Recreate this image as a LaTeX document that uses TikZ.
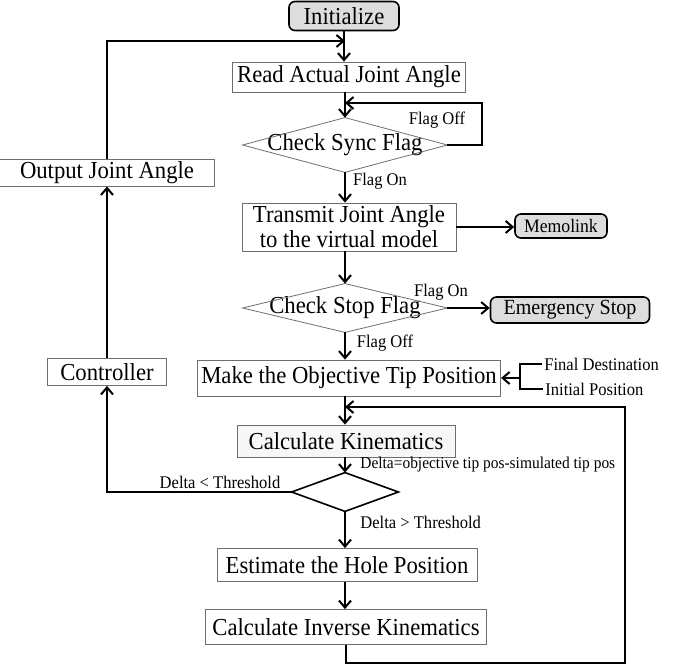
\documentclass[tikz,border=0pt]{standalone}
\usepackage{fontspec}
\setmainfont{Liberation Serif}[FakeStretch=0.93]
\usetikzlibrary{arrows.meta, positioning, calc}
\definecolor{flowGray}{RGB}{221,221,221}
\definecolor{flowEdge}{RGB}{110,110,110}

\begin{document}
\begin{tikzpicture}[x=0.5pt, y=-0.5pt,
    stepbox/.style={draw=flowEdge, line width=0.4pt, inner xsep=2pt, inner ysep=1pt, align=center, font=\fontsize{12.2}{12.6}\selectfont},
    terminal/.style={draw=black, line width=0.8pt, rounded corners=3pt, fill=flowGray, inner sep=1pt},
    decision/.style={inner sep=0pt, font=\fontsize{12.2}{13}\selectfont},
    lbl/.style={font=\fontsize{8.9}{10}\selectfont, inner sep=1pt},
    flow/.style={line width=1pt, -{Straight Barb[length=3.5pt, width=6pt]}},
    wire/.style={line width=1pt}
  ]
  \useasboundingbox (0,0) rectangle (693,668);

  % main column
  \node[terminal, minimum width=55pt, minimum height=14.5pt, font=\fontsize{12.2}{13}\selectfont] (init) at (344,16) {Initialize};
  \node[stepbox, minimum width=116.5pt, minimum height=15pt] (read) at (349,77) {Read Actual Joint Angle};
  \node[decision, minimum width=102pt, minimum height=27pt] (sync) at (345,145) {Check Sync Flag};
  \node[stepbox, minimum width=107pt, minimum height=24pt] (send) at (349,227) {Transmit Joint Angle\\to the virtual model};
  \node[decision, minimum width=102pt, minimum height=24pt] (stop) at (345,308) {Check Stop Flag};
  \node[stepbox, minimum width=136.5pt, minimum height=18pt] (goal) at (349,378) {Make the Objective Tip Position};
  \node[stepbox, fill=gray!6, minimum width=109pt, minimum height=16pt] (kin) at (346,441) {Calculate Kinematics};
  \node[decision, minimum width=53pt, minimum height=19pt] (delta) at (345,492) {};
  \node[stepbox, minimum width=130pt, minimum height=16.5pt] (hole) at (347,565) {Estimate the Hole Position};
  \node[stepbox, minimum width=140.5pt, minimum height=17.5pt] (inv) at (346,627) {Calculate Inverse Kinematics};

  % side nodes
  \node[terminal, minimum width=46pt, minimum height=12pt, font=\fontsize{9.5}{10}\selectfont] (memo) at (561,226) {Memolink};
  \node[terminal, minimum width=79.5pt, minimum height=13pt, font=\fontsize{10.8}{11}\selectfont] (emerg) at (570,310) {Emergency Stop};
  \node[stepbox, minimum width=107.5pt, minimum height=13pt] (out) at (107,173) {Output Joint Angle};
  \node[stepbox, minimum width=59.5pt, minimum height=13.5pt] (ctrl) at (107,372) {Controller};
  \node[lbl, anchor=west] (fin) at (542,364) {Final Destination};
  \node[lbl, anchor=west] (ini) at (543,389) {Initial Position};

  % diamonds
  \foreach \d in {sync,stop}
    \draw[draw=flowEdge, line width=0.4pt] (\d.north) -- (\d.east) -- (\d.south) -- (\d.west) -- cycle;
  \draw[line width=0.8pt] (delta.north) -- (delta.east) -- (delta.south) -- (delta.west) -- cycle;

  % join points
  \coordinate (join1) at (345,41);
  \coordinate (join2) at (345,103);
  \coordinate (join3) at (345,407);
  \coordinate (flagoff) at (482,103);
  \coordinate (brk) at (520,378);
  \coordinate (back) at (625,663);

  % connectors
  \draw[flow] (init.south) -- (init.south |- read.north);
  \draw[flow] (read.south -| join2) -- (sync.north);
  \draw[flow] (sync.east) -| (flagoff) -- (join2);
  \draw[flow] (sync.south) -- (sync.south |- send.north);
  \draw[flow] (send.east) -- (send.east -| memo.west);
  \draw[flow] (send.south -| stop.north) -- (stop.north);
  \draw[flow] (stop.east) -- (stop.east -| emerg.west);
  \draw[flow] (stop.south) -- (stop.south |- goal.north);
  \draw[wire] (fin.west) -| (brk) |- (ini.west);
  \draw[flow] (brk) -- (goal.east);
  \draw[flow] (goal.south -| join3) -- (join3 |- kin.north);
  \draw[flow] (inv.south) |- (back) |- (join3);
  \draw[flow] (kin.south -| delta.north) -- (delta.north);
  \draw[flow] (delta.south) -- (delta.south |- hole.north);
  \draw[flow] (hole.south -| delta.south) -- (delta.south |- inv.north);
  \draw[flow] (delta.west) -| (ctrl.south);
  \draw[flow] (ctrl.north) -- (out.south);
  \draw[flow] (out.north) |- (join1);

  % labels
  \node[lbl] (lflagoff) at (437,120) {Flag Off};
  \node[lbl] (lflagon) at (380,181) {Flag On};
  \node[lbl] (lstopon) at (441,292) {Flag On};
  \node[lbl] (lstopoff) at (385,343) {Flag Off};
  \node[lbl, anchor=west, font=\fontsize{8.3}{9}\selectfont] (ldelta) at (358,465) {Delta=objective tip pos-simulated tip pos};
  \node[lbl] (lbelow) at (220,482) {Delta < Threshold};
  \node[lbl, anchor=west] (labove) at (358,522) {Delta > Threshold};
\end{tikzpicture}
\end{document}
